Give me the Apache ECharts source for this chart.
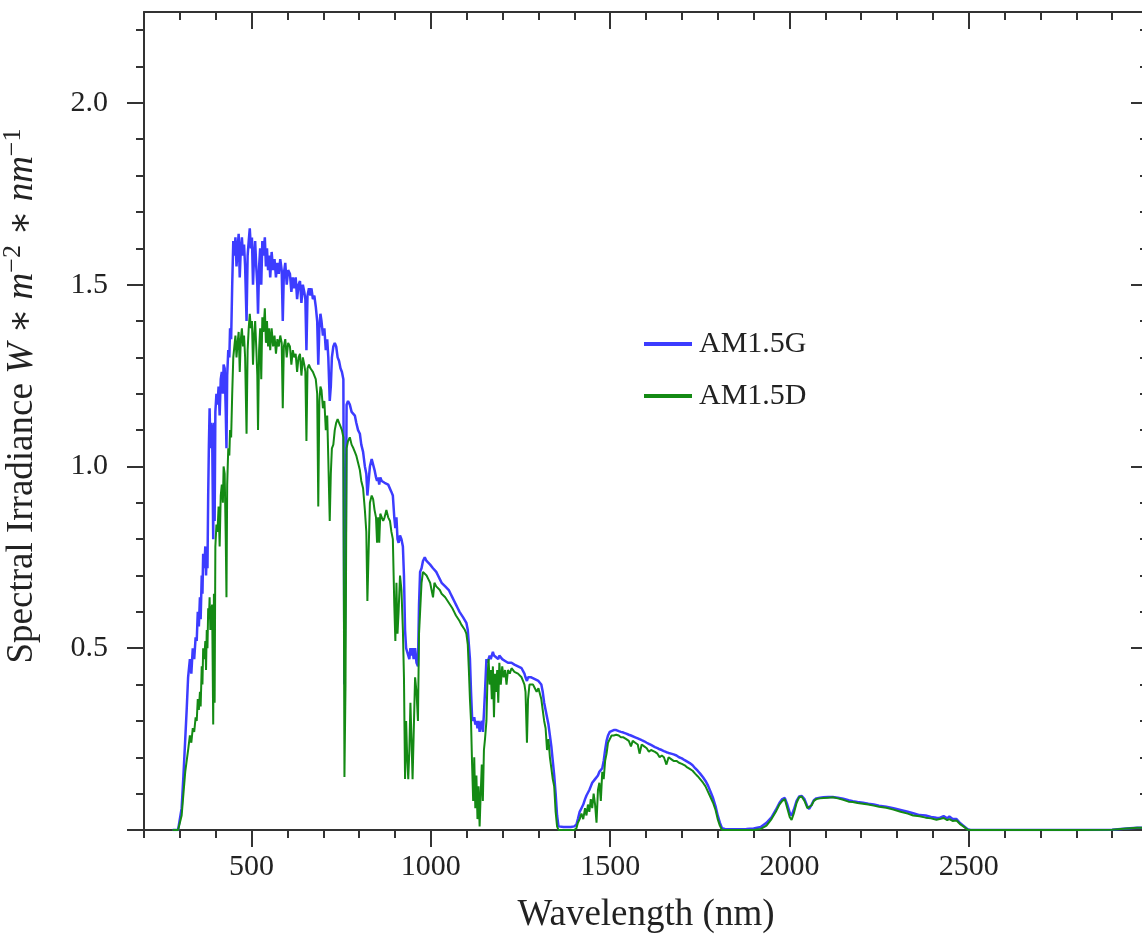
<!DOCTYPE html>
<html><head><meta charset="utf-8">
<script src="https://cdn.jsdelivr.net/npm/echarts@6/dist/echarts.min.js"></script>
<style>html,body{margin:0;padding:0;background:#fff}#c{width:1142px;height:936px}</style>
</head><body><div id="c"></div>
<script>
// Wavelength (nm)
const wavelength = [
280,295,300,305,310,315,319,323,328,332,
336,340,344,347,350,353,356,358,361,363,
365,368,371,373,375,377,379,381,383,385,
387,390,393,395,397,399,402,405,408,411,
414,417,420,422,425,428,430,432,435,438,
440,443,446,449,452,455,458,461,464,467,
470,473,476,479,482,486,489,492,495,498,
501,504,507,510,513,516,518,521,524,527,
530,533,537,540,543,546,549,552,556,560,
564,568,572,576,580,584,587,590,594,598,
602,607,611,615,619,623,627,631,635,639,
643,647,650,653,656,660,664,667,671,675,
679,683,686,689,692,695,699,703,707,711,
714,718,721,724,728,732,736,740,744,748,
752,756,759,762,765,769,774,779,784,788,
792,797,802,806,811,816,820,823,826,830,
835,839,843,847,850,853,856,859,863,867,
871,876,881,886,890,894,898,901,904,907,
910,914,918,922,925,928,931,934,937,940,
943,946,949,952,956,960,964,967,970,974,
978,983,988,993,998,1002,1006,1010,1015,1020,
1025,1030,1035,1040,1045,1050,1055,1060,1065,1070,
1075,1080,1085,1090,1095,1099,1103,1106,1109,1112,
1115,1118,1121,1124,1127,1130,1133,1136,1139,1142,
1145,1148,1151,1155,1158,1161,1164,1167,1170,1173,
1176,1179,1182,1185,1188,1191,1195,1199,1203,1207,
1211,1215,1220,1225,1229,1233,1238,1243,1248,1253,
1257,1261,1264,1268,1271,1275,1280,1285,1290,1295,
1300,1304,1308,1312,1316,1320,1324,1328,1332,1336,
1340,1344,1348,1352,1356,1360,1370,1380,1390,1400,
1406,1410,1415,1420,1425,1430,1434,1438,1442,1446,
1450,1454,1458,1462,1466,1470,1474,1478,1482,1486,
1490,1494,1499,1504,1510,1517,1524,1530,1537,1545,
1552,1558,1563,1570,1577,1582,1588,1595,1602,1608,
1614,1619,1625,1632,1638,1644,1650,1657,1663,1670,
1677,1685,1692,1700,1708,1715,1722,1730,1737,1744,
1751,1759,1766,1773,1780,1787,1794,1800,1806,1812,
1820,1850,1880,1900,1920,1936,1950,1962,1972,1980,
1987,1994,2001,2006,2012,2020,2027,2034,2042,2050,
2055,2062,2068,2075,2085,2095,2108,2121,2135,2150,
2165,2177,2190,2205,2220,2235,2250,2270,2290,2310,
2330,2345,2363,2380,2395,2410,2419,2430,2440,2446,
2455,2466,2475,2485,2497,2505,2600,2700,2800,2900,
2940,2970,3000
];
// AM1.5G global spectral irradiance (W m^-2 nm^-1)
const am15g = [
0,0,0.005,0.06,0.15,0.25,0.33,0.42,0.47,0.43,
0.50,0.47,0.53,0.52,0.60,0.56,0.64,0.58,0.70,0.65,
0.76,0.72,0.78,0.70,0.76,0.72,0.92,1.06,1.16,1.05,
1.12,1.10,0.80,1.12,0.85,1.15,1.20,1.17,1.22,1.14,
1.24,1.26,1.20,1.28,1.27,1.15,1.05,1.25,1.32,1.30,
1.38,1.35,1.50,1.62,1.58,1.63,1.55,1.60,1.64,1.52,
1.60,1.63,1.58,1.61,1.55,1.40,1.58,1.62,1.655,1.60,
1.63,1.50,1.58,1.62,1.55,1.50,1.42,1.55,1.60,1.50,
1.62,1.58,1.63,1.55,1.60,1.54,1.58,1.52,1.59,1.54,
1.57,1.52,1.56,1.53,1.57,1.54,1.40,1.53,1.56,1.50,
1.54,1.53,1.48,1.52,1.49,1.52,1.46,1.50,1.51,1.45,
1.50,1.48,1.46,1.32,1.47,1.49,1.47,1.49,1.46,1.47,
1.44,1.40,1.28,1.38,1.42,1.40,1.36,1.38,1.32,1.35,
1.30,1.18,1.22,1.30,1.33,1.34,1.33,1.30,1.29,1.27,
1.26,1.24,0.40,0.70,1.17,1.18,1.17,1.15,1.15,1.14,
1.12,1.10,1.09,1.06,1.04,1.00,0.98,0.92,0.955,1.00,
1.02,1.02,0.99,0.97,0.96,0.97,0.95,0.97,0.96,0.96,
0.955,0.95,0.95,0.95,0.93,0.92,0.86,0.83,0.86,0.80,
0.79,0.81,0.80,0.78,0.70,0.55,0.50,0.49,0.49,0.47,
0.50,0.48,0.50,0.47,0.50,0.46,0.45,0.62,0.71,0.72,
0.74,0.75,0.74,0.735,0.73,0.73,0.72,0.72,0.71,0.70,
0.69,0.68,0.675,0.67,0.665,0.66,0.65,0.64,0.63,0.62,
0.61,0.60,0.595,0.585,0.58,0.57,0.55,0.51,0.47,0.38,
0.31,0.30,0.31,0.29,0.30,0.28,0.30,0.27,0.29,0.30,
0.27,0.32,0.38,0.47,0.46,0.47,0.48,0.47,0.48,0.49,
0.48,0.48,0.475,0.48,0.47,0.48,0.475,0.47,0.47,0.465,
0.465,0.46,0.46,0.46,0.46,0.455,0.455,0.45,0.45,0.445,
0.44,0.43,0.42,0.41,0.42,0.42,0.42,0.42,0.415,0.41,
0.41,0.41,0.40,0.38,0.35,0.33,0.31,0.29,0.26,0.23,
0.19,0.15,0.10,0.04,0.01,0.008,0.008,0.008,0.008,0.01,
0.015,0.03,0.05,0.06,0.07,0.085,0.095,0.10,0.11,0.12,
0.13,0.135,0.14,0.145,0.15,0.16,0.165,0.17,0.19,0.22,
0.245,0.26,0.27,0.275,0.275,0.275,0.272,0.27,0.268,0.265,
0.262,0.26,0.257,0.255,0.252,0.25,0.247,0.244,0.24,0.237,
0.234,0.23,0.228,0.225,0.222,0.22,0.217,0.214,0.212,0.21,
0.208,0.205,0.20,0.197,0.192,0.188,0.184,0.178,0.17,0.163,
0.155,0.145,0.135,0.122,0.105,0.088,0.065,0.04,0.02,0.005,
0.003,0.002,0.003,0.004,0.008,0.02,0.035,0.055,0.074,0.085,
0.088,0.07,0.047,0.04,0.055,0.08,0.092,0.094,0.085,0.065,
0.058,0.07,0.082,0.087,0.089,0.09,0.091,0.091,0.089,0.086,
0.082,0.079,0.077,0.075,0.072,0.07,0.067,0.064,0.06,0.055,
0.05,0.046,0.041,0.04,0.036,0.034,0.033,0.038,0.032,0.037,
0.03,0.03,0.02,0.012,0.002,0,0,0,0,0.001,
0.004,0.006,0.006
];
// AM1.5D direct spectral irradiance (W m^-2 nm^-1)
const am15d = [
0,0,0.003,0.04,0.10,0.16,0.19,0.22,0.26,0.24,
0.28,0.27,0.31,0.30,0.36,0.33,0.38,0.34,0.45,0.40,
0.50,0.47,0.52,0.44,0.55,0.50,0.61,0.58,0.64,0.55,
0.60,0.62,0.29,0.65,0.35,0.78,0.84,0.82,0.89,0.78,
0.92,0.95,0.90,1.00,0.98,0.80,0.64,0.95,1.05,1.03,
1.10,1.08,1.20,1.30,1.33,1.36,1.30,1.34,1.37,1.26,
1.35,1.38,1.33,1.36,1.30,1.09,1.32,1.38,1.42,1.38,
1.40,1.28,1.36,1.40,1.33,1.25,1.10,1.32,1.38,1.24,
1.41,1.37,1.435,1.34,1.40,1.33,1.38,1.32,1.38,1.33,
1.36,1.31,1.35,1.33,1.36,1.34,1.16,1.33,1.35,1.30,
1.34,1.33,1.28,1.32,1.30,1.31,1.26,1.30,1.31,1.25,
1.30,1.28,1.26,1.07,1.27,1.28,1.27,1.275,1.26,1.26,
1.24,1.20,0.89,1.18,1.22,1.21,1.16,1.18,1.10,1.14,
1.02,0.85,0.98,1.05,1.06,1.10,1.12,1.13,1.12,1.11,
1.10,1.08,0.146,0.40,1.05,1.07,1.08,1.06,1.05,1.04,
1.03,1.01,0.99,0.96,0.94,0.88,0.82,0.63,0.75,0.90,
0.92,0.91,0.88,0.86,0.79,0.86,0.79,0.87,0.86,0.85,
0.86,0.88,0.86,0.85,0.82,0.80,0.62,0.52,0.68,0.54,
0.60,0.70,0.66,0.55,0.42,0.14,0.30,0.20,0.14,0.22,
0.35,0.25,0.14,0.26,0.42,0.38,0.30,0.54,0.60,0.68,
0.71,0.71,0.70,0.69,0.68,0.66,0.64,0.68,0.67,0.665,
0.66,0.65,0.645,0.64,0.635,0.625,0.62,0.61,0.60,0.59,
0.585,0.575,0.565,0.56,0.55,0.54,0.51,0.44,0.36,0.30,
0.18,0.08,0.20,0.06,0.15,0.03,0.12,0.01,0.10,0.18,
0.08,0.22,0.25,0.30,0.42,0.47,0.40,0.44,0.36,0.45,
0.31,0.43,0.38,0.44,0.35,0.46,0.40,0.45,0.42,0.44,
0.40,0.44,0.43,0.445,0.44,0.435,0.43,0.43,0.43,0.42,
0.41,0.40,0.38,0.24,0.36,0.40,0.40,0.40,0.39,0.38,
0.39,0.385,0.36,0.33,0.30,0.28,0.22,0.25,0.20,0.17,
0.14,0.12,0.05,0.01,0,0,0,0,0,0,
0.005,0.02,0.03,0.045,0.03,0.06,0.04,0.07,0.05,0.085,
0.06,0.10,0.07,0.02,0.11,0.13,0.08,0.16,0.14,0.19,
0.21,0.24,0.25,0.26,0.26,0.262,0.26,0.255,0.255,0.25,
0.245,0.23,0.245,0.24,0.235,0.21,0.235,0.23,0.225,0.215,
0.22,0.215,0.215,0.21,0.20,0.205,0.20,0.18,0.20,0.195,
0.19,0.19,0.185,0.182,0.178,0.172,0.168,0.163,0.155,0.148,
0.14,0.13,0.12,0.105,0.09,0.075,0.055,0.03,0.012,0,
0,0,0,0,0.003,0.012,0.03,0.05,0.07,0.08,
0.085,0.06,0.035,0.028,0.045,0.075,0.09,0.092,0.08,0.06,
0.055,0.068,0.08,0.085,0.087,0.088,0.089,0.09,0.087,0.083,
0.078,0.077,0.074,0.072,0.07,0.067,0.064,0.061,0.056,0.05,
0.045,0.04,0.038,0.034,0.032,0.028,0.03,0.033,0.027,0.03,
0.025,0.026,0.017,0.01,0.001,0,0,0,0,0.001,
0.004,0.006,0.006
];
const seriesNames = ['AM1.5G', 'AM1.5D'];
const xMajorTicks = [500, 1000, 1500, 2000, 2500];
const xLabels = [500, 1000, 1500, 2000, 2500];
const yMajorTicks = [0, 0.5, 1.0, 1.5, 2.0];
const yLabels = [0.5, 1.0, 1.5, 2.0];

const xMinorTicks = [];
for (let v = 200; v <= 3000; v += 100) xMinorTicks.push(v);
const yMinorTicks = [];
for (let i = 0; i <= 22; i++) yMinorTicks.push(i / 10);

const serif = '"Liberation Serif", "DejaVu Serif", serif';
const axColor = '#333';

function xAx(position, ticks, len, inside, showLine, labels) {
  return {
    type: 'value', position: position, min: 200, max: 3000,
    axisLine: { show: showLine, onZero: false, lineStyle: { color: axColor, width: 2 } },
    axisTick: { show: true, inside: inside, length: len, customValues: ticks,
                lineStyle: { color: axColor, width: 2 } },
    axisLabel: labels ? { show: true, customValues: labels, fontFamily: serif, fontSize: 30,
                color: '#222', margin: 22, formatter: v => String(v) } : { show: false },
    splitLine: { show: false },
    name: labels ? 'Wavelength (nm)' : '',
    nameLocation: 'middle', nameGap: 67,
    nameTextStyle: { fontFamily: serif, fontSize: 37, color: '#222' }
  };
}
function yAx(position, ticks, len, inside, showLine, labels) {
  const o = {
    type: 'value', position: position, min: 0, max: 2.25,
    axisLine: { show: showLine, onZero: false, lineStyle: { color: axColor, width: 2 } },
    axisTick: { show: true, inside: inside, length: len, customValues: ticks,
                lineStyle: { color: axColor, width: 2 } },
    axisLabel: labels ? { show: true, customValues: labels, fontFamily: serif, fontSize: 30,
                color: '#222', margin: 36, formatter: v => Number(v).toFixed(1) } : { show: false },
    splitLine: { show: false }
  };
  if (labels) {
    o.name = '{t|Spectral Irradiance }{i|W}{t| ∗ }{i|m}{s|−2}{t| ∗ }{i|nm}{s|−1}';
    o.nameLocation = 'middle';
    o.nameRotate = 90;
    o.nameGap = 100;
    o.nameTextStyle = {
      color: '#222', padding: [0, 0, 0, 50],
      rich: {
        t: { fontFamily: serif, fontSize: 37, color: '#222' },
        i: { fontFamily: serif, fontSize: 37, fontStyle: 'italic', color: '#222' },
        s: { fontFamily: serif, fontSize: 26, color: '#222', padding: [0, 0, 18, 0] }
      }
    };
  }
  return o;
}

const chart = echarts.init(document.getElementById('c'), null, { renderer: 'canvas' });
chart.setOption({
  animation: false,
  backgroundColor: '#fff',
  grid: { left: 144, right: -6, top: 12, bottom: 106, containLabel: false, outerBoundsMode: 'none' },
  xAxis: [
    xAx('bottom', xMinorTicks, 8, false, true, xLabels),
    xAx('bottom', xMajorTicks, 17, false, false, null),
    xAx('top', xMinorTicks, 8, true, true, null),
    xAx('top', xMajorTicks, 17, true, false, null)
  ],
  yAxis: [
    yAx('left', yMinorTicks, 8, false, true, yLabels),
    yAx('left', yMajorTicks, 17, false, false, null),
    yAx('right', yMinorTicks, 8, true, true, null),
    yAx('right', yMajorTicks, 17, true, false, null)
  ],
  legend: {
    orient: 'vertical', left: 639, top: 324, itemGap: 22,
    itemWidth: 48, itemHeight: 4, icon: 'rect', itemStyle: { borderWidth: 0 },
    textStyle: { fontFamily: serif, fontSize: 30, color: '#222', padding: [0, 0, 0, 2] },
    data: seriesNames
  },
  series: [
    { name: seriesNames[0], type: 'line', xAxisIndex: 0, yAxisIndex: 0, showSymbol: false, symbol: 'none',
      color: '#3c3cff', lineStyle: { color: '#3c3cff', width: 2.5 },
      data: wavelength.map((w, i) => [w, am15g[i]]) },
    { name: seriesNames[1], type: 'line', xAxisIndex: 0, yAxisIndex: 0, showSymbol: false, symbol: 'none',
      color: '#148a14', lineStyle: { color: '#148a14', width: 2 },
      data: wavelength.map((w, i) => [w, am15d[i]]) }
  ]
});
</script></body></html>
